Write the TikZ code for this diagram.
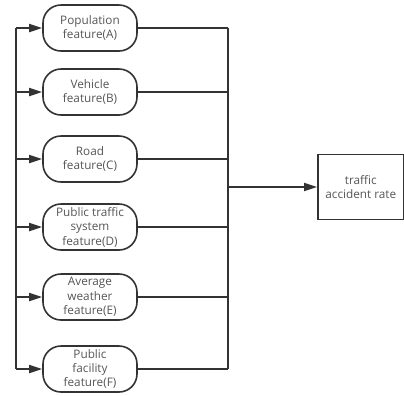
\documentclass[tikz,border=0pt]{standalone}
\usepackage{fontspec}
\setmainfont{Open Sans}
\usetikzlibrary{arrows.meta}
\definecolor{linec}{HTML}{333333}
\definecolor{textc}{HTML}{555555}
\begin{document}
\begin{tikzpicture}[x=1bp,y=-1bp,
  feat/.style={draw=linec,line width=1.6bp,rounded corners=18bp,minimum width=94bp,minimum height=46bp,
    inner sep=0pt,align=center,text=textc,font=\fontsize{11.8}{14.5}\selectfont},
  target/.style={draw=linec,line width=1.6bp,minimum width=86bp,minimum height=65bp,inner sep=0pt,
    align=center,text=textc,font=\fontsize{11.8}{14.5}\selectfont},
  conn/.style={draw=linec,line width=1.8bp},
  arr/.style={conn,-{Triangle[length=13bp,width=8bp]}}]
\useasboundingbox (0,0) rectangle (404,396);
\node[feat] (A) at (90,28) {Population\\feature(A)};
\node[feat] (B) at (90,92) {Vehicle\\feature(B)};
\node[feat] (C) at (90,159) {Road\\feature(C)};
\node[feat] (D) at (90,227) {Public traffic\\system\\feature(D)};
\node[feat] (E) at (90,297) {Average\\weather\\feature(E)};
\node[feat] (F) at (90,369) {Public\\facility\\feature(F)};
\node[target,anchor=west] (T) at (317,187) {traffic\\accident rate};
\coordinate (L) at (16,0);
\coordinate (R) at (228,0);
\draw[conn] (L |- A.west) -- (L |- F.west);
\foreach \n in {A,B,C,D,E,F}{
  \draw[arr] (L |- \n.west) -- (\n.west);
  \draw[conn] (\n.east) -- (R |- \n.east);
}
\draw[conn] (R |- A.east) -- (R |- F.east);
\draw[arr] (R |- T.west) -- (T.west);
\end{tikzpicture}
\end{document}
